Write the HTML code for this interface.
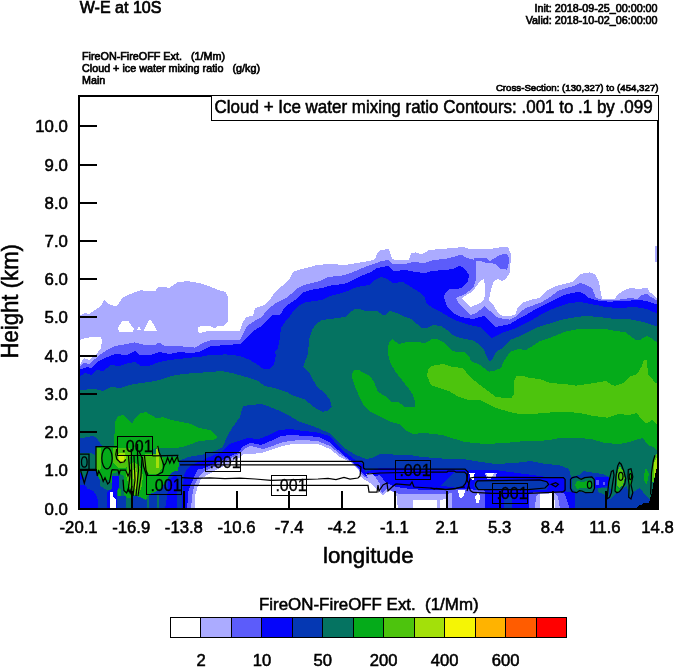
<!DOCTYPE html>
<html><head><meta charset="utf-8"><title>W-E at 10S</title>
<style>
html,body{margin:0;padding:0;background:#fff;}
svg{display:block;will-change:transform;font-family:"Liberation Sans",sans-serif;fill:#000;}
text{stroke:#000;stroke-width:0.55px;}
.s{stroke:#000;stroke-width:0.65px;}
.t{stroke-width:0.3px;}
</style></head><body>
<svg width="674" height="667" viewBox="0 0 674 667">
<rect width="674" height="667" fill="#fff"/>
<g shape-rendering="crispEdges">
<path d="M79,315.7 L85,313 L89,314 L95,310 L100,307 L104.6,299.7 L109,304 L115,306.5 L118,305 L122,298 L131,293.7 L141,290 L147,291.3 L155,291.3 L159,286.5 L163,286.5 L169,288 L177,282.5 L187,281 L199,283 L210,286.5 L218,290 L225,291.7 L228.4,297 L227.5,322 L224,325.5 L218,325.5 L215,328.5 L210,326 L204,325.5 L198.5,327 L197.5,330 L199,333 L204,332 L210,330.5 L230,331 L240,331 L242,324 L246,317 L253,315.7 L255,308 L264,305 L270,300 L274,293 L282,286 L289,280 L293,272 L298,270 L310,267 L316,265 L330,264 L345,265 L357,263 L369,261 L375,259 L378,252 L381,250 L389,249 L392,259 L397,260.4 L409,259.6 L411,253 L416,252.4 L422,254.4 L429,250 L441,249 L457,247.6 L463,247 L469,249 L480,249 L496,248.4 L500,247 L508,247 L511,254 L510,272 L506,279 L502,281 L498,279 L494,281 L491,290 L489,300 L494,306 L498,313 L502,315.7 L510,316 L516,314 L517,308 L522,303 L530,300 L539,298 L546,291 L556,286 L572,282 L580,274 L590,272.4 L595,274 L599,282 L602,299 L615,299 L617,295 L623,291 L630,288 L639,289 L647,287.6 L650,293 L653,294 L658,300 L658,509 L79,509Z" fill="#ABABFF"/>
<path d="M118,328 L122,321 L128,320.7 L134,329 L133,331.7 L119,331.7Z" fill="#FFFFFF"/>
<path d="M136.7,329.7 L139,326.5 L141,329.7Z" fill="#FFFFFF"/>
<path d="M144,330.5 L149,319.7 L151,320 L157,330.5Z" fill="#FFFFFF"/>
<path d="M79,340 L84,338.5 L92,337 L101,337.5 L102,340 L101,348 L96,355 L89,360 L84,358 L79,366Z" fill="#FFFFFF"/>
<path d="M480,281 L484,279 L485.5,290 L484,300 L480,303 L471,307 L465,302 L462,298 L473,291Z" fill="#FFFFFF"/>
<path d="M655,246 L658,246 L658,262 L655,262Z" fill="#ABABFF"/>
<path d="M79,367 L84,363 L89,364 L95,359 L101,354 L107,350 L115,346 L125,344.4 L135,342.4 L145,345 L155,345 L159,342.4 L165,346 L177,345.6 L187,347 L195,347.6 L203,343 L210,340.5 L225,340 L240,339.5 L245,330 L247,326 L256,320 L262,317 L267,310 L276,303 L286,298 L293,292.5 L298,288 L304,285 L312,283 L320,281 L328,277 L338,276 L345,275 L353,272 L365,267 L375,263.6 L381,261 L388,260 L393,264 L405,264 L413,262 L425,263 L433,260 L445,259 L457,256 L461,254.4 L467,258 L475,260 L476,262 L476,280 L473,288 L465,294 L456,298 L459,304 L465,310 L471,315 L476,313 L480,310 L484,306 L490,311 L496,317 L502,318.5 L510,319.7 L515,317 L520,312 L526,308 L534,305 L542,302 L550,297 L558,291 L566,288 L574,286 L580,283 L586,285 L592,288 L596,298 L602,299.7 L619,299.7 L631,298 L637,299 L641,295 L647,294 L651,297 L658,301 L658,509 L79,509Z" fill="#5C5CFA"/>
<path d="M474,258.5 L480,258.4 L486,258 L490,261 L495,258 L500,255 L507,253.6 L509.6,260 L507,269.6 L500,269 L495,264 L490,263 L486,263 L480,260.5 L474,260.5Z" fill="#5C5CFA"/>
<path d="M79,370 L87,367 L91,368 L97,362 L105,358 L115,354 L127,355 L135,351 L139,355 L151,355 L159,352 L169,354 L179,352 L191,353 L199,352 L210,346.4 L225,345 L240,344 L245,340 L253,331 L262,326 L268,319 L272,315 L280,315 L285,307 L292,302 L298,298 L302,293 L310,290 L322,288 L330,285.7 L345,283.7 L351,281 L361,276 L371,272 L377,268 L388,266 L394,271 L405,270 L415,272 L425,273 L431,271 L445,270 L453,269 L460,265.6 L465,269 L469,275 L468,281 L463,287 L457,289 L449,289 L445,293 L444,298 L447,306 L453,313 L461,317 L473,319 L480,317 L484,316 L490,322 L495,327 L500,326 L510,324 L518,319 L526,315 L536,309 L546,304 L556,299 L564,295 L572,293 L580,291.7 L584,294 L589,298 L600,301 L609,301.7 L623,301 L639,300 L647,301 L658,305 L658,509 L79,509Z" fill="#0505FA"/>
<path d="M79,377 L85,373 L91,375 L97,370 L103,371 L111,365 L119,366 L129,363 L135,362 L141,366 L149,366 L159,362 L169,360 L179,359 L191,357.6 L199,357 L210,355 L226,354.4 L240,356 L250,360 L258,365 L263,368.6 L270,368.6 L274,364 L276,355 L275,352 L278,348 L279.5,340 L281,328 L285,322 L290,316 L294,310 L300,305 L305,302.5 L314,301 L322,300 L330,296 L338,294 L345,292 L357,287 L369,285 L375,280 L381,277 L387,279 L393,283 L403,282 L411,287 L419,292 L425,298 L427,304 L433,308 L441,312 L449,317 L457,321 L469,325 L480,327 L486,333 L492,338 L496,336 L504,332 L514,329 L524,324 L532,320 L540,315 L550,310 L560,306 L570,303 L580,302 L590,304 L600,305.7 L605,307 L619,308 L635,307 L647,309 L658,314 L658,509 L79,509Z" fill="#0538B3"/>
<path d="M79,390 L95,389 L103,391 L111,387 L121,388 L129,385 L141,383 L155,381 L163,379 L171,376 L183,374 L195,373 L210,372 L222,371 L234,373.6 L246,377 L258,381 L265,386 L274,388 L286,391.7 L294,396 L304,399 L310,403.7 L316,408.5 L322,411.7 L328,411 L331.8,407 L330,400 L324,392 L318,388 L313,380 L309,372 L303,367 L308,354 L309,340 L312,330 L316,324 L322,320 L330,319 L345,317 L349,313 L355,309 L360,309 L365,311 L377,311 L384,315.7 L390,311 L397,313 L403,316 L411,319 L417,324 L422,328 L427,328 L433,325 L441,326 L447,330 L453,335 L460,338 L473,340.5 L480,345 L484,350 L489,361.6 L492,360 L496,352 L504,347 L510,340 L520,336 L530,331 L538,327 L548,324 L560,320 L570,318 L584,316 L596,316.7 L599,317 L615,319 L629,319 L643,322 L658,327 L658,509 L79,509Z" fill="#057361"/>
<path d="M388,346 L390,341 L392,339 L393,340 L399,344 L405,342.4 L413,341.6 L425,343 L431,340 L431,339 L437,339 L439,340 L443,342 L451,350 L457,352.4 L465,352.4 L469,356 L471,361 L480,365 L489,371.6 L494,371 L501,368 L504,361 L510,352 L518,349 L526,350 L534,345 L540,341 L543,340 L550,338 L557,335 L565,331.7 L579,329 L603,328.5 L615,331 L625,332 L633,338 L635,340 L639,340.5 L643,338 L647,336 L651,338 L654,341 L658,342 L658,451 L653,447 L648,445 L643,438 L639,439 L629,442 L619,444 L605,443 L591,439 L579,438 L559,438 L549,440 L539,441 L525,441 L505,443 L485,444 L465,442 L455,439 L445,435.7 L435,434 L423,433 L413,434 L405,430 L399,424 L391,422 L381,417 L371,412 L364,406 L359,396 L354,384 L351.4,376 L354,370 L359,370 L364,373 L370,376 L374,382 L378,392 L385,396 L392,402 L399,402.5 L405,407 L415,406.5 L415,402 L413,395 L409,389 L402,380 L395,371 L390,362 L387.5,352Z" fill="#05AB1A"/>
<path d="M114,446 L115,422 L118,416 L123,415 L128,420 L132,423.7 L136,417 L141,413 L146,412 L151,415 L157,418.5 L163,417 L171,420 L181,422 L191,424 L199,428 L210,430 L215,434 L217,437 L215,439 L212,440 L205,440.5 L199,441 L190,444.5 L182.6,447 L175,448 L165,447.7 L156,447.7 L150,452 L130,452 L118,450Z" fill="#05AB1A"/>
<path d="M427,376 L428,370 L431,366 L443,364 L453,367 L463,368 L469,376 L480,385 L488,391 L496,397 L511,398.5 L514,394 L514.5,380 L517,375.6 L522,375.6 L530,378 L540,379 L550,383 L564,384 L576,385.7 L588,384 L600,382 L606,381 L612,385 L615,386 L623,383 L629,377 L637,374 L642,366 L644,360 L647,360 L648,375 L651,377 L655,383 L658,384 L658,424 L656,424 L652,420 L646,423.7 L641,419 L637,413 L629,415 L619,414 L607,417.7 L592,415.7 L580,413 L564,411.7 L550,412.5 L536,413.7 L522,414.5 L510,412 L496,408 L488,404 L480,400 L467,399.6 L459,397 L449,391 L439,388 L431,385Z" fill="#4DC40D"/>
<path d="M79,438.4 L89,437 L91.8,435.7 L96.4,437.5 L102,445.8 L96.4,447.6 L94.6,455 L90,452.7 L79,452.7Z" fill="#0538B3"/>
<path d="M95.5,447 L114,446 L150,447 L152.7,447 L152.7,456 L163,457 L178.4,456.7 L179.5,462 L179.5,470 L172,472 L166,481 L162,488 L155,492 L150,494 L146,500 L142,504 L138,500 L134,497 L128,498 L124,495 L122,488 L117,480 L112,485.6 L107,487 L100,486 L97,478 L96,470Z" fill="#05AB1A"/>
<path d="M112,474 L117,472 L124,476 L124,495.8 L117,495.8 L116.6,488 L112,488Z" fill="#057361"/>
<path d="M100,479 L104,481 L108,480 L112,483 L112,491 L106,490 L100,486Z" fill="#057361"/>
<path d="M96.4,447.6 L101,447.6 L101,468 L99,470 L96.4,470Z" fill="#4DC40D"/>
<path d="M113,447.6 L130,447.6 L131,455 L129,464 L125,468 L118,468 L113,463Z" fill="#4DC40D"/>
<path d="M117.5,455 L119,453 L125,453 L126,457 L125,462 L122,463 L118.5,461.5Z" fill="#A3E00A"/>
<path d="M119,456 L123.5,455 L124,459 L122,461.5 L119.5,460.5Z" fill="#D0EC08"/>
<path d="M127,466 L134,462 L140,466 L143,475 L142,486 L138,495.8 L133,494 L129,486 L126,475Z" fill="#4DC40D"/>
<path d="M142.4,455 L150,453.6 L158,454 L162.8,458 L162,468 L158,474 L150,474 L144,470Z" fill="#4DC40D"/>
<path d="M155.6,468 L155.6,452 L157.5,446.4 L159,452 L159,468Z" fill="#A3E00A"/>
<path d="M133,470 L136,468 L137.5,480 L136,490 L134,488Z" fill="#A3E00A"/>
<path d="M79,477.4 L84,478 L88,471 L96,471 L100,480 L100,486 L107,490 L112,491 L116.6,495.8 L125.8,495.8 L125.8,509 L79,509Z" fill="#0538B3"/>
<path d="M79,484.7 L85.4,485.6 L87.2,488.4 L93.6,491 L96.4,495.8 L98.2,500.4 L98.2,509 L79,509Z" fill="#0505FA"/>
<path d="M79,474 L81,472 L83,479 L79,480Z" fill="#0505FA"/>
<path d="M107.4,509 L107.4,492 L112,488.4 L112,475.5 L118.5,475.5 L118.5,488.4 L116.6,492 L116.6,509Z" fill="#0505FA"/>
<path d="M110.2,509 L110.2,492 L113,492 L113.5,497 L115.7,499 L115.7,509Z" fill="#FFFFFF"/>
<path d="M117.6,489.3 L121.2,489.3 L121.2,495.8 L117.6,495.8Z" fill="#05AB1A"/>
<path d="M132,509 L132,495 L140,497 L146,500 L150,494 L155,492 L162,488 L166,481 L172,472 L179.5,470 L183,474 L183,509Z" fill="#0538B3"/>
<path d="M165,509 L167.4,495 L168.4,481 L174,476 L183,474 L184,509Z" fill="#0505FA"/>
<path d="M146.7,509 L146.7,496 L148.6,496 L148.6,509Z" fill="#057361"/>
<path d="M156.9,509 L156.9,495 L158.7,495 L158.7,509Z" fill="#057361"/>
<path d="M125.8,509 L125.8,500 L132.3,500 L132.3,509Z" fill="#057361"/>
<path d="M176.7,509 L176.7,475.4 L178,469.5 L179.7,460.6 L188.6,457 L202,454.7 L215,451 L222.7,447 L227,437 L232,428 L240,417 L243,406 L250,405 L262,404 L270,407 L280,411 L290,416 L300,422 L310,425 L320,429 L330,433.5 L338,442 L346,449 L356,455 L366,459 L372,458 L380,454 L396,454.6 L410,455 L420,456.6 L434,458 L450,459 L465,459.4 L469,460 L481,462 L495,464 L515,463 L531,461 L545,464 L559,465 L569,469 L571,477 L579,475 L583,471 L595,473 L603,474 L609,477 L609,487 L601,491 L599,495 L607,497 L619,495 L627,489 L635,483 L643,487 L647,495 L650,499 L650,509Z" fill="#0538B3"/>
<path d="M182,509 L182.6,490 L184,475.4 L187,469.5 L191.5,465 L205,459 L221,452 L229,444 L239,441 L247,438 L259,439 L269,435 L279,430 L291,429 L303,431 L315,432 L330,436 L338,446 L346,453 L354,459 L364,465 L365,472 L380,468 L396,468 L430,469 L455,469.5 L467,469.5 L480,469.5 L495,470 L510,472 L525,474 L540,476 L548,477.5 L565,477.5 L566,492 L575,492 L575,509Z" fill="#0505FA"/>
<path d="M187,509 L188.6,490 L193,480 L197.5,469.5 L205,468 L222,460 L239,452.4 L242,447 L250,442.8 L261,445 L273,440 L281,436 L291,435 L307,436 L319,437 L330,442.5 L338,450 L346,457 L354,463 L360,470 L365,476 L372,477 L380,475 L386,483 L396,487 L410,489 L426,490 L440,490 L458,489 L468,489 L484.5,490.6 L484.5,509Z" fill="#5C5CFA"/>
<path d="M190.8,509 L193,490 L196,481.4 L201,474 L205,471 L222,463 L241,453 L245,448.7 L250,445.8 L263,449 L275,445 L283,442 L295,440.5 L307,440.2 L319,441.5 L330,446 L340,454 L350,461 L358,468 L362,475 L367,478 L372,482 L376,487 L382,493 L386,489 L392,491 L398,493.5 L410,493.5 L424,493.5 L438,494 L448,494 L449,509Z" fill="#ABABFF"/>
<path d="M366,474 L372,473 L376,478 L380,484 L381,491 L376,487 L370,482Z" fill="#ABABFF"/>
<path d="M194.5,509 L195,496 L197.5,487.3 L201,479 L206.4,475.4 L222,467 L241,457 L243.5,454 L251,454 L261,453 L275,448.5 L283,446 L295,443.6 L307,443.6 L319,444.4 L330,449 L340,457 L350,462 L358,469 L362,478 L370,483 L378,491 L383,495 L388,491 L396,492 L398,509Z" fill="#FFFFFF"/>
<path d="M413,509 L413,500 L438,500 L438,509Z" fill="#FFFFFF"/>
<path d="M594.5,476.7 L608.8,476.7 L608.8,485.6 L598,488.3 L594.5,488.3Z" fill="#0505FA"/>
<path d="M455,472 L466,472.5 L466.5,480 L464,486 L457,488 L441,485.5Z" fill="#0538B3"/>
<path d="M475.6,480.8 L546.8,480.8 L548.5,485 L546.8,489.7 L475.6,489.7 L474,485Z" fill="#0538B3"/>
<path d="M529,509 L529,493 L540,491.5 L558,491.5 L565,494 L570,509Z" fill="#5C5CFA"/>
<path d="M535,509 L536,496 L540,493.3 L554,493 L558,497 L560,509Z" fill="#ABABFF"/>
<path d="M539.7,509 L539.7,494 L552.2,493.3 L554.5,500 L554.5,509Z" fill="#FFFFFF"/>
<path d="M437.2,509 L437.2,494 L451.5,493.4 L451.5,509Z" fill="#ABABFF"/>
<path d="M440,509 L440,500 L446,499 L446,509Z" fill="#FFFFFF"/>
<path d="M457.8,489.7 L465,489.7 L464,496 L461,498.6 L459,496Z" fill="#FFFFFF"/>
<path d="M469.4,472.8 L474.7,472.8 L473.5,480 L470,479Z" fill="#FFFFFF"/>
<path d="M484.5,472.8 L497,472.8 L495,478 L487,479Z" fill="#ABABFF"/>
<path d="M486,473 L494,473 L492,476.5 L488,477Z" fill="#FFFFFF"/>
<path d="M475,497 L478.5,492 L480,497 L479,503 L476.5,503Z" fill="#FFFFFF"/>
<path d="M504,509 L504,497 L512,497 L512,509Z" fill="#0538B3"/>
<path d="M608.8,509 L608.8,476.7 L611,470 L615,466 L619.4,462.5 L623,466 L628,468 L632,468 L636,474 L642,470 L650,466 L655,455 L658,455 L658,509Z" fill="#057361"/>
<path d="M575,509 L575,492 L594.5,492 L598,488.3 L608.8,486 L612,492 L610,499 L616,493 L622,489 L627,486 L629,498 L633,492 L640,488 L646,496 L650,500 L650,509Z" fill="#0538B3"/>
<path d="M598,488.3 L608.8,488.3 L608.8,497.2 L603,494 L598,492Z" fill="#057361"/>
<path d="M616.8,478 L618,470 L620,466.5 L622.5,470 L624.8,478 L623,485.6 L619,488 L616.8,485Z" fill="#4DC40D"/>
<path d="M615,491 L616.5,486 L620,489 L618,493Z" fill="#05AB1A"/>
<path d="M628.3,476 L630.5,471.4 L632.8,477 L631,485.6 L629,485Z" fill="#05AB1A"/>
<path d="M643.5,476 L646,467.8 L648.8,474 L647,483.8 L645,483Z" fill="#05AB1A"/>
<path d="M651.5,482 L652.5,466 L655,455 L658,453 L658,478 L654.5,482Z" fill="#4DC40D"/>
<path d="M653.5,476 L654.5,462 L656.5,458 L657.5,470 L655,478Z" fill="#A3E00A"/>
<path d="M571.5,479.4 L576.7,477.5 L584.7,478 L591.8,477.5 L594.2,480 L594.2,488.3 L592,492 L576,492 L571.5,488.3Z" fill="#057361"/>
<path d="M577,481 L583,482 L590,480 L593,484.5 L590,489 L583,487.5 L577,489 L575,485Z" fill="#05AB1A"/>
<path d="M596.3,480.3 L598.9,480.3 L598.9,484.7 L596.3,484.7Z" fill="#5C5CFA"/>
<path d="M602.5,482 L605.2,482 L605.2,484.7 L602.5,484.7Z" fill="#5C5CFA"/>
<path d="M635.5,509 L637,507 L640,505 L642,505 L643,503 L649,502.8 L649.2,500.8 L650,500.8 L650.5,497 L651.5,494.5 L654,480 L656.8,467.8 L658,460 L658,509Z" fill="#000"/>
</g>
<g>
<rect x="117.5" y="436.5" width="35" height="19" fill="none" stroke="#000" stroke-width="1" shape-rendering="crispEdges"/>
<text x="121.4" y="452" font-size="16" class="t">.001</text>
<rect x="146.5" y="475.5" width="35" height="19" fill="none" stroke="#000" stroke-width="1" shape-rendering="crispEdges"/>
<text x="150.4" y="491" font-size="16" class="t">.001</text>
<rect x="205.5" y="452.5" width="35" height="19" fill="none" stroke="#000" stroke-width="1" shape-rendering="crispEdges"/>
<text x="209.4" y="468" font-size="16" class="t">.001</text>
<rect x="271.5" y="475.5" width="35" height="20" fill="none" stroke="#000" stroke-width="1" shape-rendering="crispEdges"/>
<text x="275.4" y="491" font-size="16" class="t">.001</text>
<rect x="395.5" y="460.5" width="35" height="19" fill="none" stroke="#000" stroke-width="1" shape-rendering="crispEdges"/>
<text x="399.4" y="476" font-size="16" class="t">.001</text>
<rect x="492.5" y="483.5" width="35" height="20" fill="none" stroke="#000" stroke-width="1" shape-rendering="crispEdges"/>
<text x="496.4" y="499" font-size="16" class="t">.001</text>
<path d="M79,454 L89,454 L89,469.3" fill="none" stroke="#000" stroke-width="1.25"/>
<path d="M79,469.3 L96,469.3 L96,446.7 L117.5,446.7" fill="none" stroke="#000" stroke-width="1.25"/>
<ellipse cx="84.3" cy="462" rx="2.8" ry="5.2" fill="none" stroke="#000" stroke-width="1.25"/>
<ellipse cx="107" cy="458.2" rx="5.2" ry="10.6" fill="none" stroke="#000" stroke-width="1.25"/>
<path d="M80.5,470 L84.3,483.2 L86,477 L88,470.5" fill="none" stroke="#000" stroke-width="1.25"/>
<path d="M96,469.2 L97.3,476 L98.7,471 L101.4,476 L103.2,481.4 L105,477.8 L107.7,484 L109.5,482.3 L111.7,470.6 L112.2,469.7 L118,470 L119,474 L120.3,470 L125.7,470 L126.6,472.4 L128,476 L128.9,474 L130.6,469.7" fill="none" stroke="#000" stroke-width="1.25"/>
<path d="M123,479.6 L123.9,490.4 L126.6,493 L128.4,488.6 L130.2,493 L132,486" fill="none" stroke="#000" stroke-width="1.25"/>
<path d="M116.7,449 L115.8,454.4 L116.7,458.9 L120.3,462.5 L123.9,462 L125.7,459.3" fill="none" stroke="#000" stroke-width="1.25"/>
<path d="M131.3,449 L131.8,491" fill="none" stroke="#000" stroke-width="1.25"/>
<path d="M128.5,456 L130,475 L128,492" fill="none" stroke="#000" stroke-width="1.25"/>
<path d="M134,456 L135,480 L133,496" fill="none" stroke="#000" stroke-width="1.25"/>
<path d="M137.6,444 L137.5,456 L138.5,470 L136,496" fill="none" stroke="#000" stroke-width="1.25"/>
<path d="M139.4,452 L142,458 L141,476 L138,496" fill="none" stroke="#000" stroke-width="1.25"/>
<path d="M144.5,456 L146,470 L148,476" fill="none" stroke="#000" stroke-width="1.25"/>
<path d="M142.4,457 L143.5,466 L146.5,475.5" fill="none" stroke="#000" stroke-width="1.25"/>
<path d="M152.5,455.8 L178.4,455.3" fill="none" stroke="#000" stroke-width="1.25"/>
<path d="M157.7,445.9 L159,452 L160.4,455.3 L164,465.7 L165.8,463 L167.6,457.6 L169.8,463 L172,457.6 L173.9,463 L176.1,458.5 L177.5,456.7 L178.4,461.2 L179.7,461.4 L362,461.4 L363.5,463 L363.5,468 L365,469 L465,469 L468,472 L467,480 L469,484 L467,491" fill="none" stroke="#000" stroke-width="1.25"/>
<path d="M164,465.7 L162.5,472 L159,474 L156,475.5" fill="none" stroke="#000" stroke-width="1.25"/>
<path d="M180,464.8 L358,464.8 L361,467 L360,476 L358,478 L350,479 L344,477.5 L336,479.5 L328,478.5 L318,479 L306.6,479.3 L271,480.3 L255,479 L240,478.2 L225,478.6 L210,478 L195,478.4 L181.8,477.7" fill="none" stroke="#000" stroke-width="1.25"/>
<path d="M181.8,485.3 L368,485.3 L369,492 L377,492 L378,485 L379,491 L383,485 L387,483 L388,491 L392,487 L396,484 L410,485 L412,482 L414,487 L430,488 L446,489.5 L458,488 L465,487" fill="none" stroke="#000" stroke-width="1.25"/>
<path d="M367,474 L380,473 L430.5,472" fill="none" stroke="#000" stroke-width="1.25"/>
<path d="M430.5,472 L447,472 L448,471 L454,471 L456,472 L464.5,472 L466.5,474 L467,479 L465.5,483.5 L463,486.5 L457,488 L455,489 L444.5,489.3 L436,488.5 L434.5,489 L430.5,488" fill="none" stroke="#000" stroke-width="1.25"/>
<path d="M550,477.5 L473.8,477.3 L470.3,478 L468.5,485 L470.3,490.5 L473,492.4 L492.5,493.3 L528.1,493.3 L563.4,491.8" fill="none" stroke="#000" stroke-width="1.25"/>
<path d="M550,477.6 L563.4,477.6 L565.1,479.4 L565.1,490 L563.4,491.8" fill="none" stroke="#000" stroke-width="1.25"/>
<path d="M528.1,489.7 L478.3,489.7 L475.6,486 L475.6,483.5 L477.4,480.8 L539.7,480 L546.8,481.7 L548.6,484.4 L545,488 L528.1,489.7" fill="none" stroke="#000" stroke-width="1.25"/>
<path d="M551.3,484.4 L555.7,482.6 L558.4,484.4 L555.7,486.7Z" fill="none" stroke="#000" stroke-width="1.25"/>
<path d="M570.5,479.4 L572.3,477.6 L576.7,476.7 L579.4,478.5 L581.2,479.4 L584.7,477.6 L591.8,477 L594.2,479.4 L594.5,488.3 L592.7,492.4 L585.6,492.7 L582,491 L579.4,490.6 L576.7,492.7 L572.3,491.8 L570.5,488.3Z" fill="none" stroke="#000" stroke-width="1.25"/>
<ellipse cx="589.6" cy="484.7" rx="2.2" ry="3.6" fill="none" stroke="#000" stroke-width="1.25"/>
<path d="M607,499 L608.8,482 L611.4,471.4 L613.2,470.5 L614,475 L612.3,485.6 L611.4,492.7 L609.6,497.2Z" fill="none" stroke="#000" stroke-width="1.25"/>
<path d="M615,491 L615.9,476.7 L617.7,466 L619.4,462.5 L621.2,464.2 L623.9,471.4 L625.7,478.5 L624.8,483.8 L622.1,488.3 L619.4,491.8 L616.8,492.7Z" fill="none" stroke="#000" stroke-width="1.25"/>
<ellipse cx="620.8" cy="476.3" rx="2.2" ry="4" fill="none" stroke="#000" stroke-width="1.25"/>
<path d="M628.3,469.6 L631,468.7 L632.8,476.7 L631,484.7 L632.8,492.7 L631,499 L628.7,497.2 L629.2,485.6 L628,476.7Z" fill="none" stroke="#000" stroke-width="1.25"/>
<ellipse cx="630.4" cy="476.5" rx="1.2" ry="3" fill="none" stroke="#000" stroke-width="1.25"/>
<path d="M650.6,494.5 L651.5,473 L653.3,460.7 L655,455.3" fill="none" stroke="#000" stroke-width="1.25"/>
</g>
<g shape-rendering="crispEdges">
<rect x="79" y="96" width="579" height="413" fill="none" stroke="#000" stroke-width="2"/>
<rect x="79" y="125" width="18" height="2" fill="#000"/>
<rect x="79" y="164" width="18" height="2" fill="#000"/>
<rect x="79" y="202" width="18" height="2" fill="#000"/>
<rect x="79" y="240" width="18" height="2" fill="#000"/>
<rect x="79" y="278" width="18" height="2" fill="#000"/>
<rect x="79" y="316" width="18" height="2" fill="#000"/>
<rect x="79" y="355" width="18" height="2" fill="#000"/>
<rect x="79" y="393" width="18" height="2" fill="#000"/>
<rect x="79" y="431" width="18" height="2" fill="#000"/>
<rect x="79" y="469" width="18" height="2" fill="#000"/>
<rect x="79" y="508" width="18" height="2" fill="#000"/>
<rect x="131" y="491" width="2" height="18" fill="#000"/>
<rect x="183" y="491" width="2" height="18" fill="#000"/>
<rect x="236" y="491" width="2" height="18" fill="#000"/>
<rect x="288" y="491" width="2" height="18" fill="#000"/>
<rect x="341" y="491" width="2" height="18" fill="#000"/>
<rect x="394" y="491" width="2" height="18" fill="#000"/>
<rect x="446" y="491" width="2" height="18" fill="#000"/>
<rect x="499" y="491" width="2" height="18" fill="#000"/>
<rect x="552" y="491" width="2" height="18" fill="#000"/>
<rect x="605" y="491" width="2" height="18" fill="#000"/>
<rect x="211.5" y="95.5" width="447" height="25" fill="#fff" stroke="#000" stroke-width="1"/>
<rect x="170.50" y="617.5" width="30.46" height="20" fill="#FFFFFF" stroke="#000" stroke-width="1"/>
<rect x="200.96" y="617.5" width="30.46" height="20" fill="#ABABFF" stroke="#000" stroke-width="1"/>
<rect x="231.42" y="617.5" width="30.46" height="20" fill="#5C5CFA" stroke="#000" stroke-width="1"/>
<rect x="261.88" y="617.5" width="30.46" height="20" fill="#0505FA" stroke="#000" stroke-width="1"/>
<rect x="292.35" y="617.5" width="30.46" height="20" fill="#0538B3" stroke="#000" stroke-width="1"/>
<rect x="322.81" y="617.5" width="30.46" height="20" fill="#057361" stroke="#000" stroke-width="1"/>
<rect x="353.27" y="617.5" width="30.46" height="20" fill="#05AB1A" stroke="#000" stroke-width="1"/>
<rect x="383.73" y="617.5" width="30.46" height="20" fill="#4DC40D" stroke="#000" stroke-width="1"/>
<rect x="414.19" y="617.5" width="30.46" height="20" fill="#A3E00A" stroke="#000" stroke-width="1"/>
<rect x="444.65" y="617.5" width="30.46" height="20" fill="#F5F505" stroke="#000" stroke-width="1"/>
<rect x="475.12" y="617.5" width="30.46" height="20" fill="#FFB300" stroke="#000" stroke-width="1"/>
<rect x="505.58" y="617.5" width="30.46" height="20" fill="#FF5C00" stroke="#000" stroke-width="1"/>
<rect x="536.04" y="617.5" width="30.46" height="20" fill="#FF0000" stroke="#000" stroke-width="1"/>
</g>
<text x="67.9" y="132" text-anchor="end" font-size="16.8">10.0</text>
<text x="67.9" y="171" text-anchor="end" font-size="16.8">9.0</text>
<text x="67.9" y="209" text-anchor="end" font-size="16.8">8.0</text>
<text x="67.9" y="247" text-anchor="end" font-size="16.8">7.0</text>
<text x="67.9" y="285" text-anchor="end" font-size="16.8">6.0</text>
<text x="67.9" y="323" text-anchor="end" font-size="16.8">5.0</text>
<text x="67.9" y="362" text-anchor="end" font-size="16.8">4.0</text>
<text x="67.9" y="400" text-anchor="end" font-size="16.8">3.0</text>
<text x="67.9" y="438" text-anchor="end" font-size="16.8">2.0</text>
<text x="67.9" y="476" text-anchor="end" font-size="16.8">1.0</text>
<text x="67.9" y="515" text-anchor="end" font-size="16.8">0.0</text>
<text x="78.6" y="532.8" text-anchor="middle" font-size="16.7">-20.1</text>
<text x="131.236" y="532.8" text-anchor="middle" font-size="16.7">-16.9</text>
<text x="183.873" y="532.8" text-anchor="middle" font-size="16.7">-13.8</text>
<text x="236.509" y="532.8" text-anchor="middle" font-size="16.7">-10.6</text>
<text x="289.145" y="532.8" text-anchor="middle" font-size="16.7">-7.4</text>
<text x="341.782" y="532.8" text-anchor="middle" font-size="16.7">-4.2</text>
<text x="394.418" y="532.8" text-anchor="middle" font-size="16.7">-1.1</text>
<text x="447.055" y="532.8" text-anchor="middle" font-size="16.7">2.1</text>
<text x="499.691" y="532.8" text-anchor="middle" font-size="16.7">5.3</text>
<text x="552.327" y="532.8" text-anchor="middle" font-size="16.7">8.4</text>
<text x="604.964" y="532.8" text-anchor="middle" font-size="16.7">11.6</text>
<text x="657.6" y="532.8" text-anchor="middle" font-size="16.7">14.8</text>
<text x="214.6" y="113.2" font-size="17.8" textLength="438" lengthAdjust="spacingAndGlyphs">Cloud + Ice water mixing ratio Contours: .001 to .1 by .099</text>
<text x="201.0" y="665.6" font-size="16.6" text-anchor="middle">2</text>
<text x="261.9" y="665.6" font-size="16.6" text-anchor="middle">10</text>
<text x="322.8" y="665.6" font-size="16.6" text-anchor="middle">50</text>
<text x="383.7" y="665.6" font-size="16.6" text-anchor="middle">200</text>
<text x="444.7" y="665.6" font-size="16.6" text-anchor="middle">400</text>
<text x="505.6" y="665.6" font-size="16.6" text-anchor="middle">600</text>
<text x="79.8" y="12.6" font-size="16" textLength="81.6" lengthAdjust="spacingAndGlyphs" style="stroke-width:0.7px">W-E at 10S</text>
<text x="657.6" y="11.5" font-size="10.75" text-anchor="end" class="s">Init: 2018-09-25_00:00:00</text>
<text x="657.6" y="23.9" font-size="10.75" text-anchor="end" class="s">Valid: 2018-10-02_06:00:00</text>
<text x="658.5" y="91.2" font-size="9.7" text-anchor="end" class="s">Cross-Section: (130,327) to (454,327)</text>
<text x="82" y="60.4" font-size="10.75" class="s" style="white-space:pre" textLength="143" lengthAdjust="spacingAndGlyphs">FireON-FireOFF Ext.   (1/Mm)</text>
<text x="82" y="72.2" font-size="10.75" class="s" style="white-space:pre" textLength="178" lengthAdjust="spacingAndGlyphs">Cloud + ice water mixing ratio   (g/kg)</text>
<text x="82" y="84.2" font-size="10.75" class="s">Main</text>
<text x="323" y="563.4" font-size="22.6" textLength="90.6" lengthAdjust="spacingAndGlyphs">longitude</text>
<text transform="translate(18.2,358.6) rotate(-90)" font-size="23.2" textLength="114.6" lengthAdjust="spacingAndGlyphs">Height (km)</text>
<text x="368.8" y="609.5" font-size="16.9" text-anchor="middle" style="white-space:pre">FireON-FireOFF Ext.  (1/Mm)</text>
</svg>
</body></html>
